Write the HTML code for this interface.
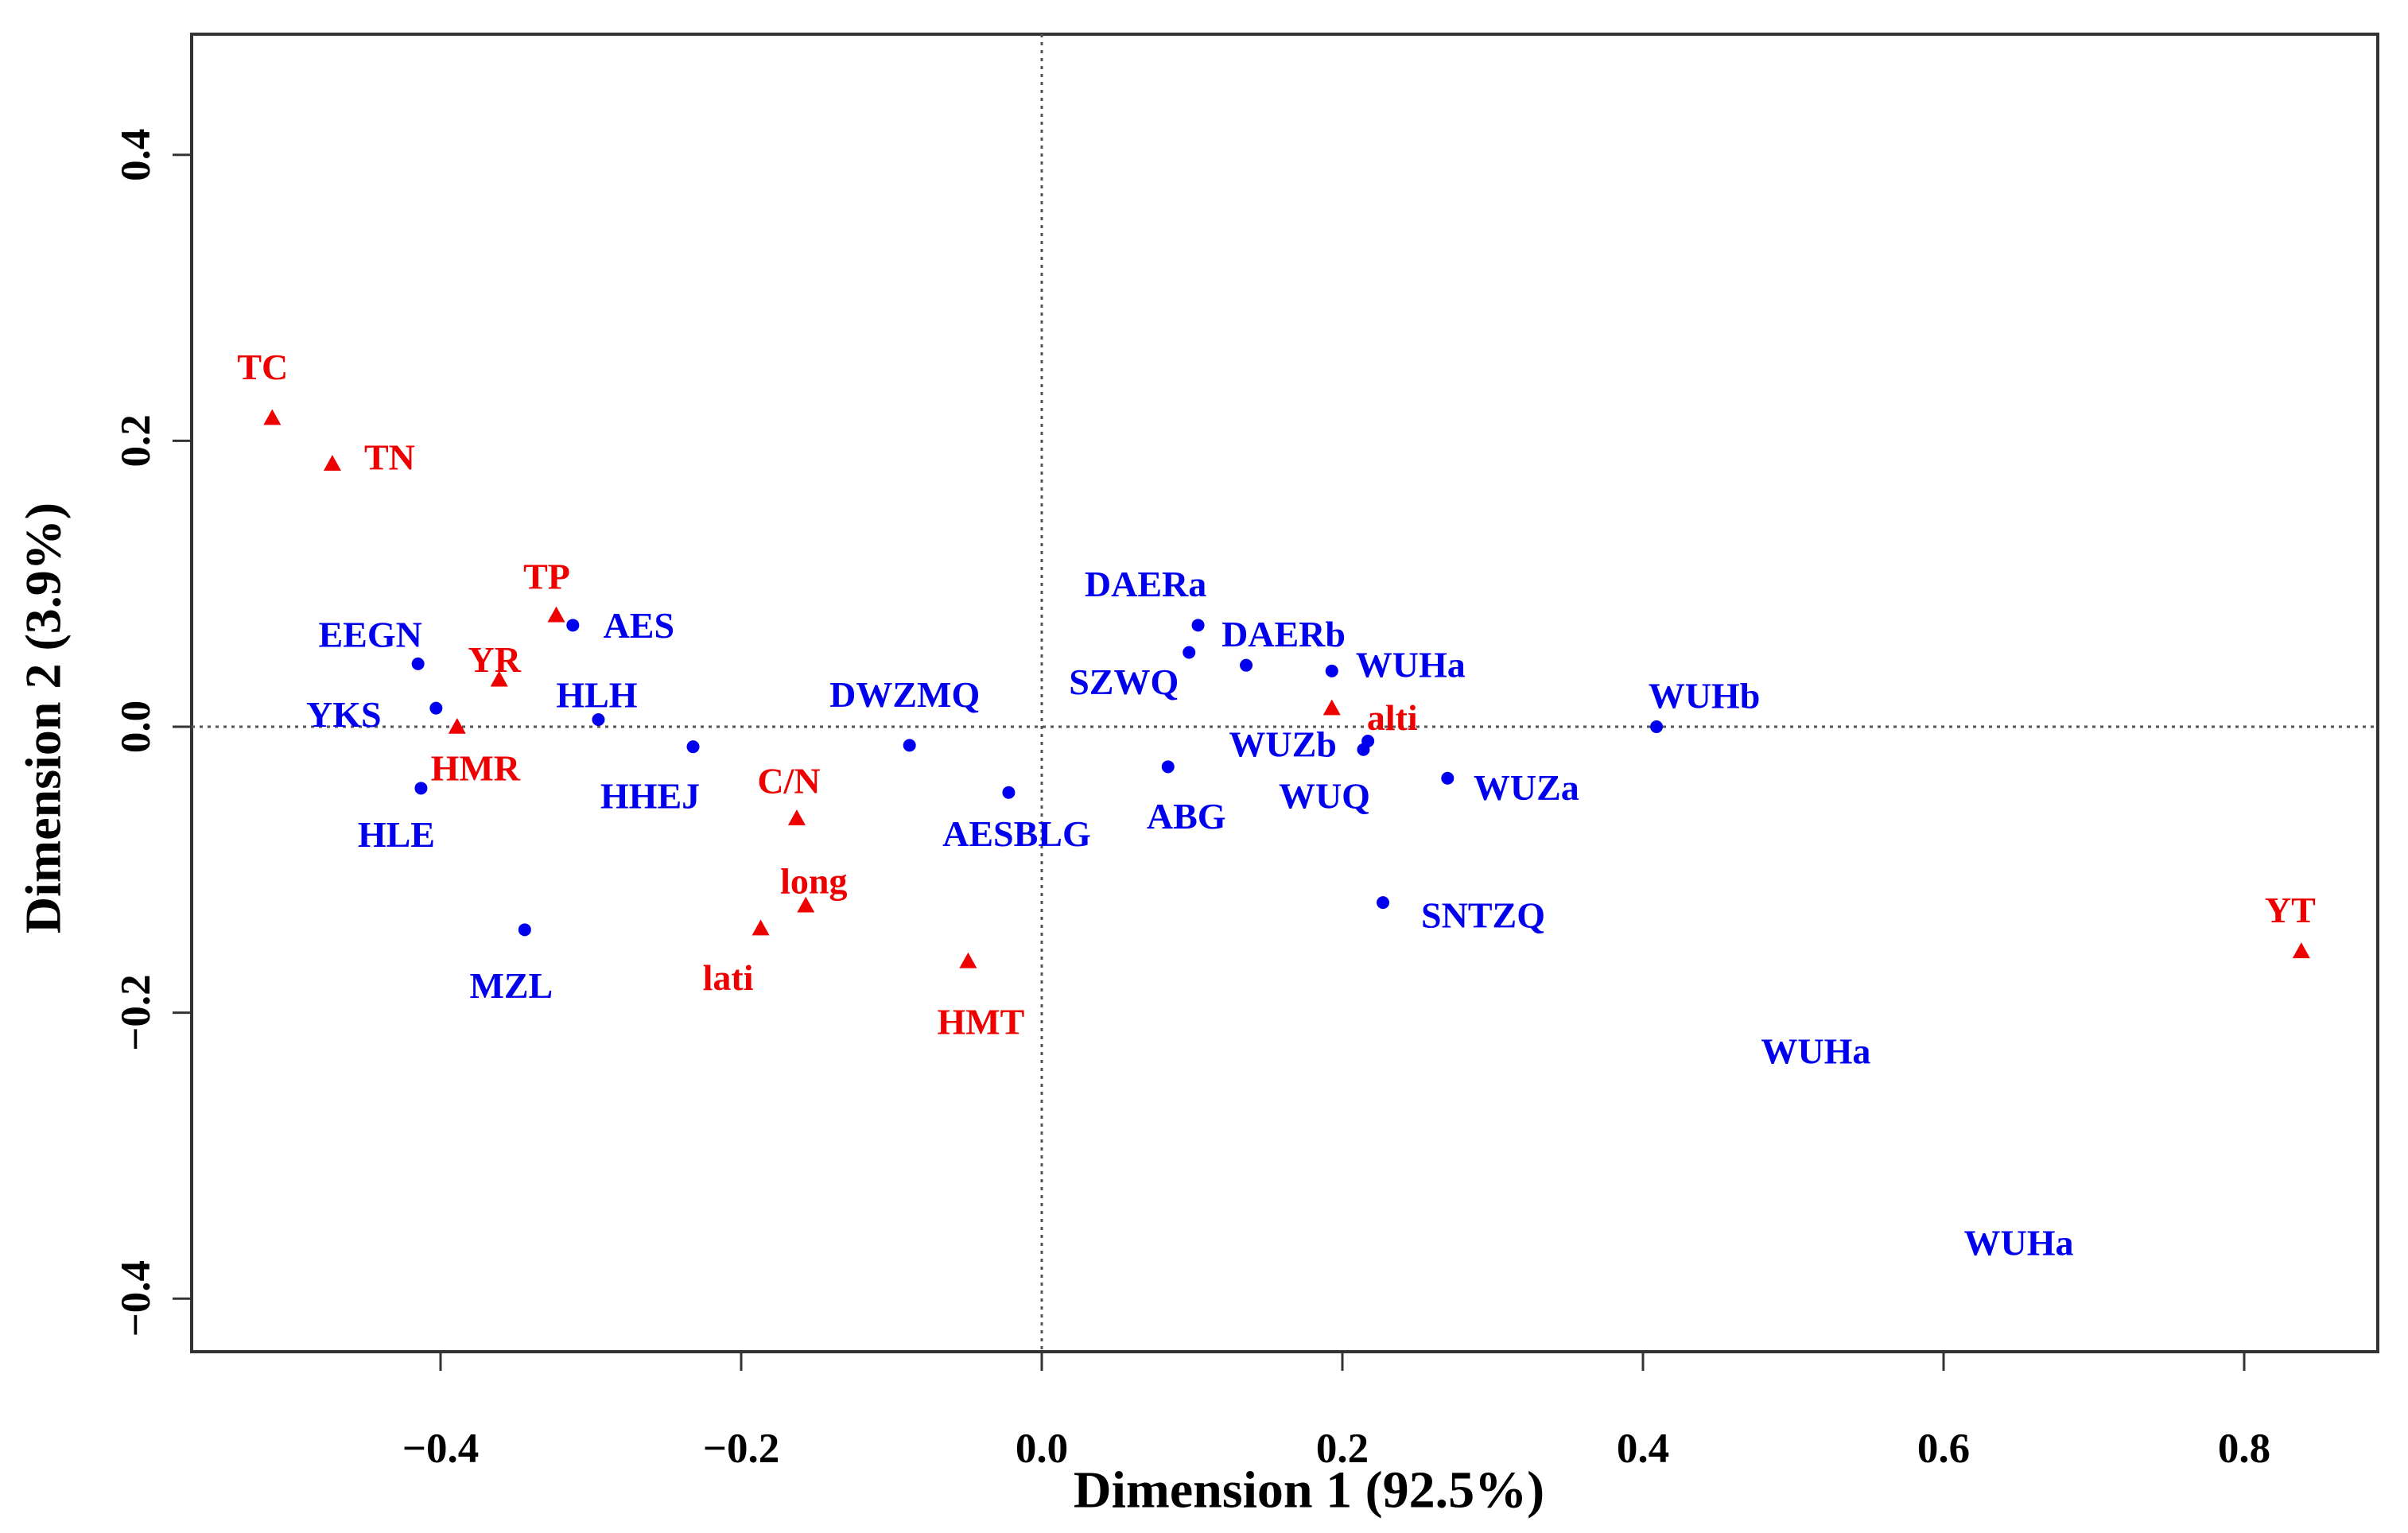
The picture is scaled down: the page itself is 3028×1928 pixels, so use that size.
<!DOCTYPE html>
<html><head><meta charset="utf-8">
<style>
html,body{margin:0;padding:0;background:#fff;}
svg{display:block;}
text{font-family:"Liberation Serif",serif;font-weight:bold;}
</style></head>
<body>
<svg id="chart" width="3028" height="1928" viewBox="0 0 3028 1928" xmlns="http://www.w3.org/2000/svg">
<rect x="241" y="43" width="2749" height="1657" fill="none" stroke="#333" stroke-width="4"/>
<g id="axes"></g>
<g id="marks"></g>
<text x="1646" y="1874" text-anchor="middle" dominant-baseline="central" font-size="66" fill="#000">Dimension 1 (92.5%)</text>
<text x="54" y="903" text-anchor="middle" dominant-baseline="central" font-size="64" fill="#000" transform="rotate(-90 54 903)">Dimension 2 (3.9%)</text>
</svg>
<script>
const xTicks = [-0.4, -0.2, 0.0, 0.2, 0.4, 0.6, 0.8];
const xTickLabels = ["\u22120.4", "\u22120.2", "0.0", "0.2", "0.4", "0.6", "0.8"];
const yTicks = [-0.4, -0.2, 0.0, 0.2, 0.4];
const yTickLabels = ["\u22120.4", "\u22120.2", "0.0", "0.2", "0.4"];

const rowNames = ["EEGN","YKS","HLE","MZL","AES","HLH","HHEJ","DWZMQ","AESBLG","ABG","SZWQ","DAERa","DAERb","WUHa","WUZb","WUQ","WUZa","SNTZQ","WUHb"];
const rowX = [-0.415,-0.403,-0.413,-0.344,-0.312,-0.295,-0.232,-0.088,-0.022,0.084,0.098,0.104,0.136,0.193,0.217,0.214,0.270,0.227,0.409];
const rowY = [0.044,0.013,-0.043,-0.142,0.071,0.005,-0.014,-0.013,-0.046,-0.028,0.052,0.071,0.043,0.039,-0.010,-0.016,-0.036,-0.123,0.0];

const colNames = ["TC","TN","TP","YR","HMR","C/N","long","lati","HMT","alti","YT"];
const colX = [-0.512,-0.472,-0.323,-0.361,-0.389,-0.163,-0.157,-0.187,-0.049,0.193,0.838];
const colY = [0.216,0.184,0.078,0.033,0.0,-0.064,-0.125,-0.141,-0.164,0.013,-0.157];

const extraNames = ["WUHa","WUHa"];
const extraX = [0.515, 0.650];
const extraY = [-0.227, -0.361];

// label offsets (layout, px)
const rowOff = [[-60,-37],[-116,8],[-31,58],[-17,70],[83,0],[-2,-31],[-54,62],[-6,-64],[10,52],[23,62],[-82,37],[-66,-52],[47,-39],[99,-8],[-107,4],[-49,58],[99,12],[126,16],[60,-39]];
const colOff = [[-12,-64],[72,-8],[-12,-49],[-6,-25],[23,52],[-10,-47],[10,-31],[-41,62],[16,76],[76,12],[-14,-52]];

const L=241,R=2990,T=43,B=1700;
function sx(v){return 1310 + v*1890;}
function sy(v){return 914 - v*1798;}
const NS="http://www.w3.org/2000/svg";
function mk(tag, attrs, parent){const e=document.createElementNS(NS,tag);for(const k in attrs)e.setAttribute(k,attrs[k]);parent.appendChild(e);return e;}
const axes=document.getElementById('axes'), marks=document.getElementById('marks');

let l=mk('line',{x1:sx(0),x2:sx(0),y1:T,y2:B,stroke:'#555','stroke-width':3,'stroke-dasharray':'4 6'},axes);


l=mk('line',{x1:L,x2:R,y1:sy(0),y2:sy(0),stroke:'#555','stroke-width':3,'stroke-dasharray':'4 6'},axes);



xTicks.forEach((v,i)=>{
  const t=mk('line',{x1:sx(v),x2:sx(v),y1:B,y2:B+24,stroke:'#333','stroke-width':3},axes);
  
  
  const tx=mk('text',{x:sx(v),y:1822,'text-anchor':'middle','dominant-baseline':'central','font-size':53,fill:'#000'},axes);
  tx.textContent=xTickLabels[i];
  
  
});
yTicks.forEach((v,i)=>{
  const t=mk('line',{x1:L-24,x2:L,y1:sy(v),y2:sy(v),stroke:'#333','stroke-width':3},axes);
  
  
  const tx=mk('text',{x:171,y:sy(v),'text-anchor':'middle','dominant-baseline':'central','font-size':53,fill:'#000',transform:`rotate(-90 171 ${sy(v)})`},axes);
  tx.textContent=yTickLabels[i];
  
  
});

rowNames.forEach((n,i)=>{
  const px=sx(rowX[i]), py=sy(rowY[i]);
  const c=mk('circle',{cx:px,cy:py,r:8,fill:'#0000ee'},marks);
  
  
  const t=mk('text',{x:px+rowOff[i][0],y:py+rowOff[i][1],'text-anchor':'middle','dominant-baseline':'central','font-size':46,fill:'#0000ee'},marks);
  t.textContent=n;
  
  
});
extraNames.forEach((n,i)=>{
  const t=mk('text',{x:sx(extraX[i]),y:sy(extraY[i]),'text-anchor':'middle','dominant-baseline':'central','font-size':46,fill:'#0000ee'},marks);
  t.textContent=n;
  
  
});
colNames.forEach((n,i)=>{
  const px=sx(colX[i]), py=sy(colY[i]);
  const s=11;
  const p=mk('polygon',{points:`${px},${py-s} ${px-s},${py+s*0.8} ${px+s},${py+s*0.8}`,fill:'#ee0000'},marks);
  
  
  const t=mk('text',{x:px+colOff[i][0],y:py+colOff[i][1],'text-anchor':'middle','dominant-baseline':'central','font-size':46,fill:'#ee0000'},marks);
  t.textContent=n;
  
  
});
</script>
</body></html>
